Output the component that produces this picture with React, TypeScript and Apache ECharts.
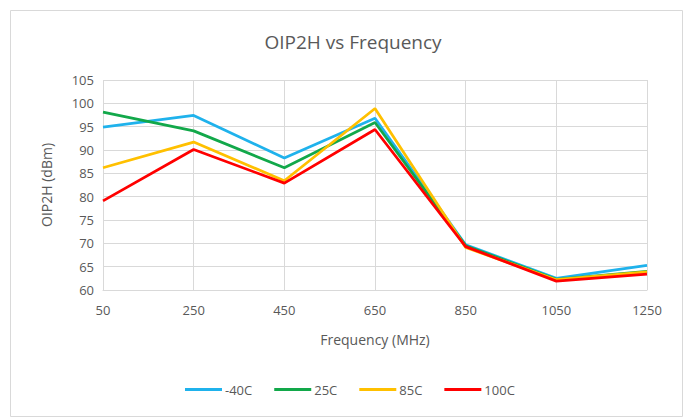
import React, { useEffect, useRef } from "react";
import * as echarts from "echarts";

const categories = ["50", "250", "450", "650", "850", "1050", "1250"];
const seriesNames = ["-40C", "25C", "85C", "100C"];
const seriesColors = ["#1FB2EC", "#12A84A", "#FFC000", "#FF0000"];
const valsM40 = [94.9, 97.4, 88.3, 96.8, 69.7, 62.5, 65.3];
const vals25 = [98.1, 94.1, 86.2, 95.9, 69.5, 62.3, 64.0];
const vals85 = [86.2, 91.7, 83.4, 98.9, 69.1, 62.2, 63.9];
const vals100 = [79.1, 90.1, 82.9, 94.4, 69.3, 61.9, 63.4];
const yTicks = { min: 60, max: 105, interval: 5 };

const FONT = "'Open Sans', 'Noto Sans', sans-serif";

export default function App() {
  const ref = useRef<HTMLDivElement>(null);
  useEffect(() => {
    if (!ref.current) return;
    const chart = echarts.init(ref.current, undefined, { renderer: "svg" });
    const data = [valsM40, vals25, vals85, vals100];
    chart.setOption({
      animation: false,
      backgroundColor: "#ffffff",
      textStyle: { fontFamily: FONT },
      graphic: [
        {
          type: "rect",
          shape: { x: 10.5, y: 10.5, width: 672, height: 406 },
          style: { fill: "none", stroke: "#d9d9d9", lineWidth: 1 },
          silent: true,
        },
      ],
      title: {
        text: "OIP2H vs Frequency",
        left: 348,
        textAlign: "center",
        top: 27,
        textStyle: { fontFamily: FONT, fontSize: 19, fontWeight: "normal", color: "#595959" },
      },
      legend: {
        bottom: 18,
        left: 180,
        itemWidth: 37,
        itemHeight: 3,
        itemGap: 22,
        icon: "rect",
        textStyle: { fontFamily: FONT, fontSize: 13, color: "#595959", padding: [0, 0, 0, -2] },
        data: seriesNames,
      },
      grid: { left: 103, right: 39, top: 80, bottom: 129, containLabel: false },
      xAxis: {
        type: "category",
        data: categories,
        boundaryGap: false,
        name: "Frequency (MHz)",
        nameLocation: "middle",
        nameGap: 42,
        nameTextStyle: { fontFamily: FONT, fontSize: 14, color: "#595959" },
        axisLine: { show: true, lineStyle: { color: "#d9d9d9" } },
        axisTick: { show: false },
        axisLabel: { fontFamily: FONT, fontSize: 13, color: "#595959", margin: 13 },
        splitLine: { show: true, lineStyle: { color: "#d9d9d9", width: 1 } },
      },
      yAxis: {
        type: "value",
        min: yTicks.min,
        max: yTicks.max,
        interval: yTicks.interval,
        name: "OIP2H (dBm)",
        nameLocation: "middle",
        nameGap: 50,
        nameTextStyle: { fontFamily: FONT, fontSize: 14, color: "#595959" },
        axisLine: { show: false },
        axisTick: { show: false },
        axisLabel: { fontFamily: FONT, fontSize: 13, color: "#595959", margin: 9 },
        splitLine: { show: true, lineStyle: { color: "#d9d9d9", width: 1 } },
      },
      series: seriesNames.map((n, i) => ({
        name: n,
        type: "line",
        data: data[i],
        symbol: "none",
        color: seriesColors[i],
        lineStyle: { width: 2.75, color: seriesColors[i] },
      })),
    });
    return () => chart.dispose();
  }, []);
  return (
    <div
      ref={ref}
      style={{ position: "absolute", left: 0, top: 0, width: 686, height: 419 }}
    />
  );
}
